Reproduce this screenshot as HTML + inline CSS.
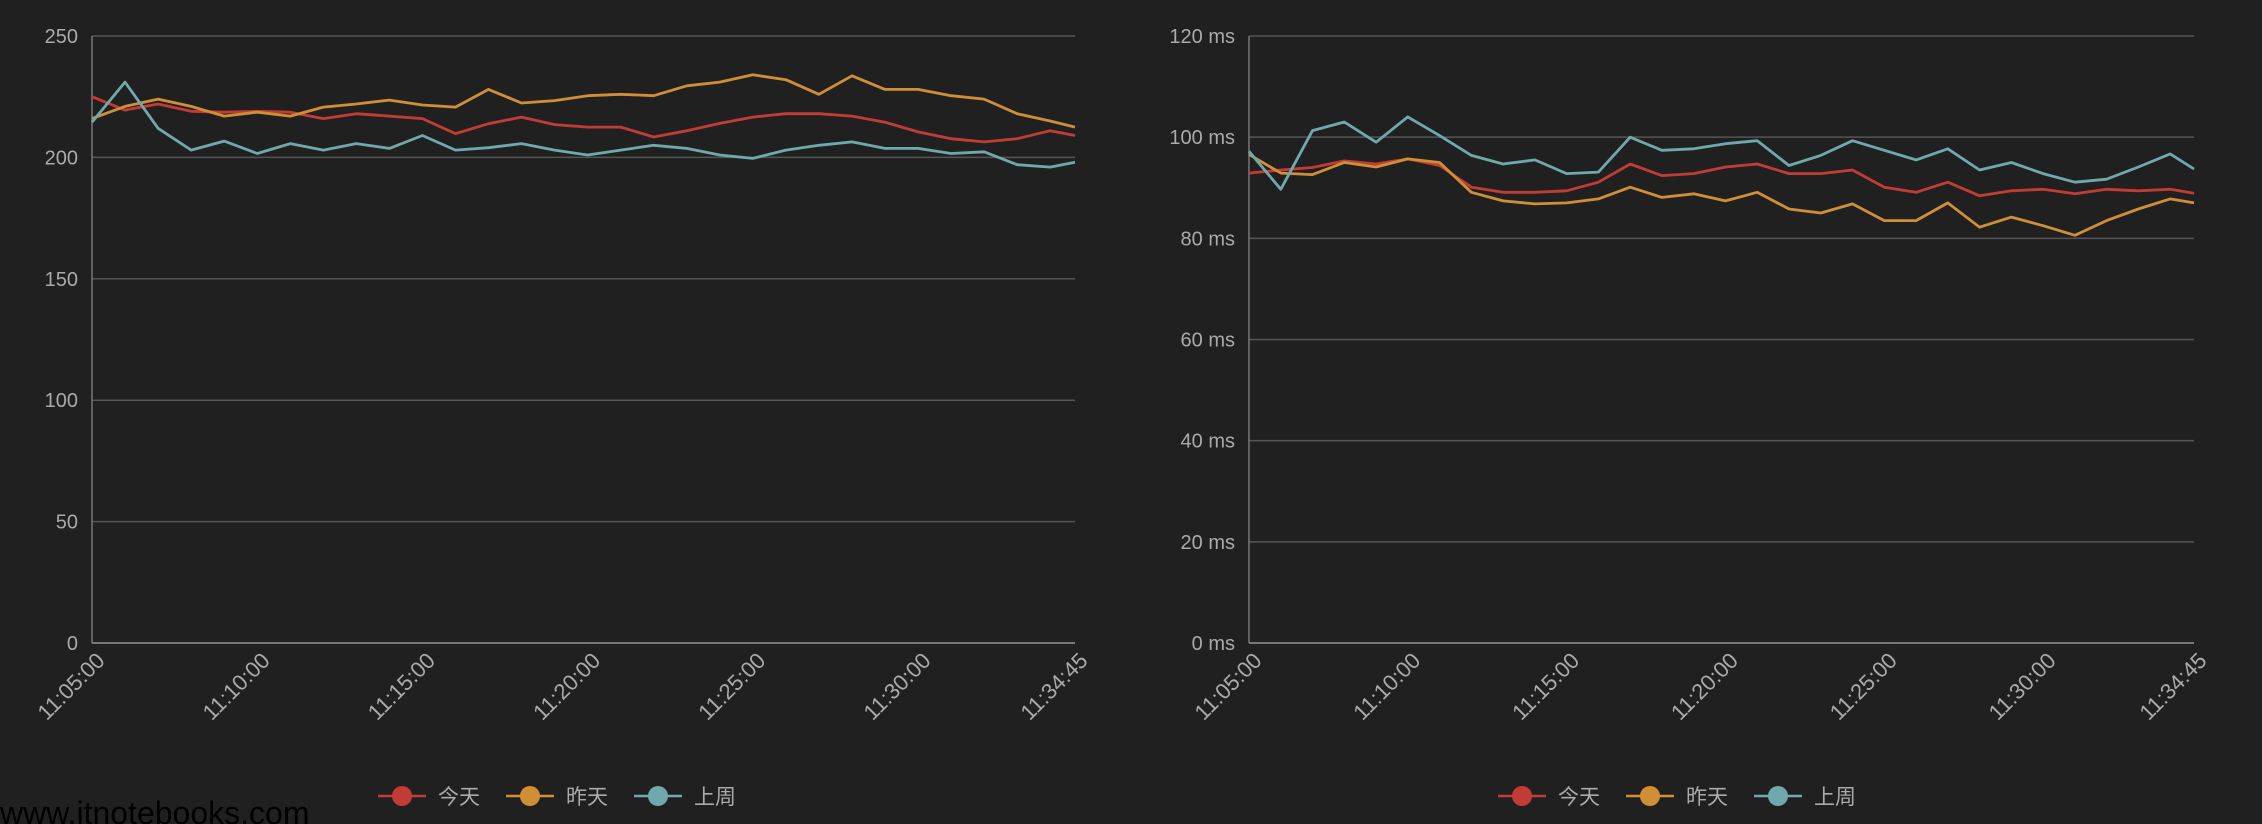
<!DOCTYPE html>
<html><head><meta charset="utf-8"><style>
html,body{margin:0;padding:0;background:#202020;}
svg{display:block;font-family:"Liberation Sans","Noto Sans CJK SC",sans-serif;}
</style></head><body>
<svg id="c" width="2262" height="824" viewBox="0 0 2262 824" xmlns="http://www.w3.org/2000/svg">
<rect width="2262" height="824" fill="#202020"/>
<text x="0" y="824" font-size="32" fill="#000">www.itnotebooks.com</text>
</svg>
<script>
// shared time axis (seconds from 11:05:00)
const times = [0,60,120,180,240,300,360,420,480,540,600,660,720,780,840,900,960,1020,1080,1140,1200,1260,1320,1380,1440,1500,1560,1620,1680,1740,1785];
const xTickSecs = [0,300,600,900,1200,1500,1785];
const xTickLabels = ["11:05:00","11:10:00","11:15:00","11:20:00","11:25:00","11:30:00","11:34:45"];
const seriesNames = ["今天","昨天","上周"];
// left chart
const leftToday = [225,219.5,222,219,218.6,219,218.6,216,218,217,216,209.8,213.9,216.6,213.5,212.5,212.5,208.4,211,214,216.6,218,218,217,214.5,210.5,207.7,206.4,207.7,211,209];
const leftYesterday = [216,221,224,221,217,218.6,217,220.7,222,223.6,221.6,220.7,228,222.4,223.4,225.4,226,225.4,229.5,231,234,232,226,233.6,228,228,225.4,224,218,215,212.5];
const leftLastWeek = [214.5,231,212,203,206.7,201.6,205.7,203,205.7,203.7,209,203,204,205.7,203,201,203,205,203.7,201,199.6,203,205,206.4,203.7,203.7,201.6,202.3,197,196,198];
const leftYTicks = [0,50,100,150,200,250];
const leftYLabels = ["0","50","100","150","200","250"];
// right chart
const rightToday = [92.9,93.5,94,95.3,94.7,95.7,94.4,90.1,89.1,89.1,89.4,91.1,94.7,92.4,92.8,94.1,94.7,92.8,92.8,93.5,90.1,89.1,91.1,88.4,89.4,89.7,88.8,89.7,89.4,89.7,88.9];
const rightYesterday = [96.6,92.9,92.6,95,94.1,95.7,95,89.1,87.4,86.8,87,87.8,90.1,88.1,88.8,87.4,89.1,85.8,85,86.8,83.5,83.5,87,82.2,84.2,82.5,80.6,83.5,85.8,87.8,87];
const rightLastWeek = [97.2,89.7,101.3,103,99,104,100.3,96.4,94.7,95.5,92.8,93.1,100,97.4,97.7,98.7,99.3,94.4,96.4,99.3,97.4,95.5,97.7,93.5,95,92.8,91.1,91.7,94.1,96.7,93.7];
const rightYTicks = [0,20,40,60,80,100,120];
const rightYLabels = ["0 ms","20 ms","40 ms","60 ms","80 ms","100 ms","120 ms"];

const colors = ["#c23c36","#d08f35","#6fa8ad"];
const NS = "http://www.w3.org/2000/svg";
const svg = document.getElementById("c");
function mk(tag, attrs, parent){const e=document.createElementNS(NS,tag);for(const k in attrs)e.setAttribute(k,attrs[k]);(parent||svg).appendChild(e);return e;}

function chart(prefix, x0, x1, yMax, yTicks, yLabels, series, legendX){
  const y0 = 643, yTop = 36;
  const xs = t => x0 + (t/1785)*(x1-x0);
  const ys = v => y0 - (v/yMax)*(y0-yTop);
  const g = mk("g", {});
  
  
  yTicks.forEach((v,i)=>{
    const l = mk("line",{x1:x0,x2:x1,y1:ys(v),y2:ys(v),stroke:v===0?"#777":"#555","stroke-width":v===0?2:1.5},g);
    
    
    const t = mk("text",{x:x0-14,y:ys(v)+7,"text-anchor":"end","font-size":20,fill:"#aaa"},g);
    t.textContent = yLabels[i];
    
    
  });
  const ax = mk("line",{x1:x0,x2:x0,y1:yTop,y2:y0,stroke:"#777","stroke-width":1.5},g);
  
  
  xTickSecs.forEach((s,i)=>{
    const x = xs(s);
    const t = mk("text",{x:0,y:0,"text-anchor":"end","font-size":22,fill:"#aaa",transform:`translate(${x+14},${y0+19}) rotate(-45)`},g);
    t.textContent = xTickLabels[i];
    
    
  });
  series.forEach((vals,si)=>{
    const d = vals.map((v,i)=>(i?"L":"M")+xs(times[i]).toFixed(1)+","+ys(v).toFixed(1)).join(" ");
    const p = mk("path",{d:d,fill:"none",stroke:colors[si],"stroke-width":2.8,"stroke-linejoin":"round"},g);
    
    
  });
  seriesNames.forEach((n,si)=>{
    const cx = legendX + si*128;
    const lg = mk("g",{},g);
    
    
    mk("line",{x1:cx-24,x2:cx+24,y1:796,y2:796,stroke:colors[si],"stroke-width":2.5},lg);
    mk("circle",{cx:cx,cy:796,r:10,fill:colors[si]},lg);
    const t = mk("text",{x:cx+36,y:804,"font-size":21,fill:"#aaa"},lg);
    t.textContent = n;
  });
}
chart("left",92,1075,250,leftYTicks,leftYLabels,[leftToday,leftYesterday,leftLastWeek],402);
chart("right",1249,2194,120,rightYTicks,rightYLabels,[rightToday,rightYesterday,rightLastWeek],1522);
</script>
</body></html>
